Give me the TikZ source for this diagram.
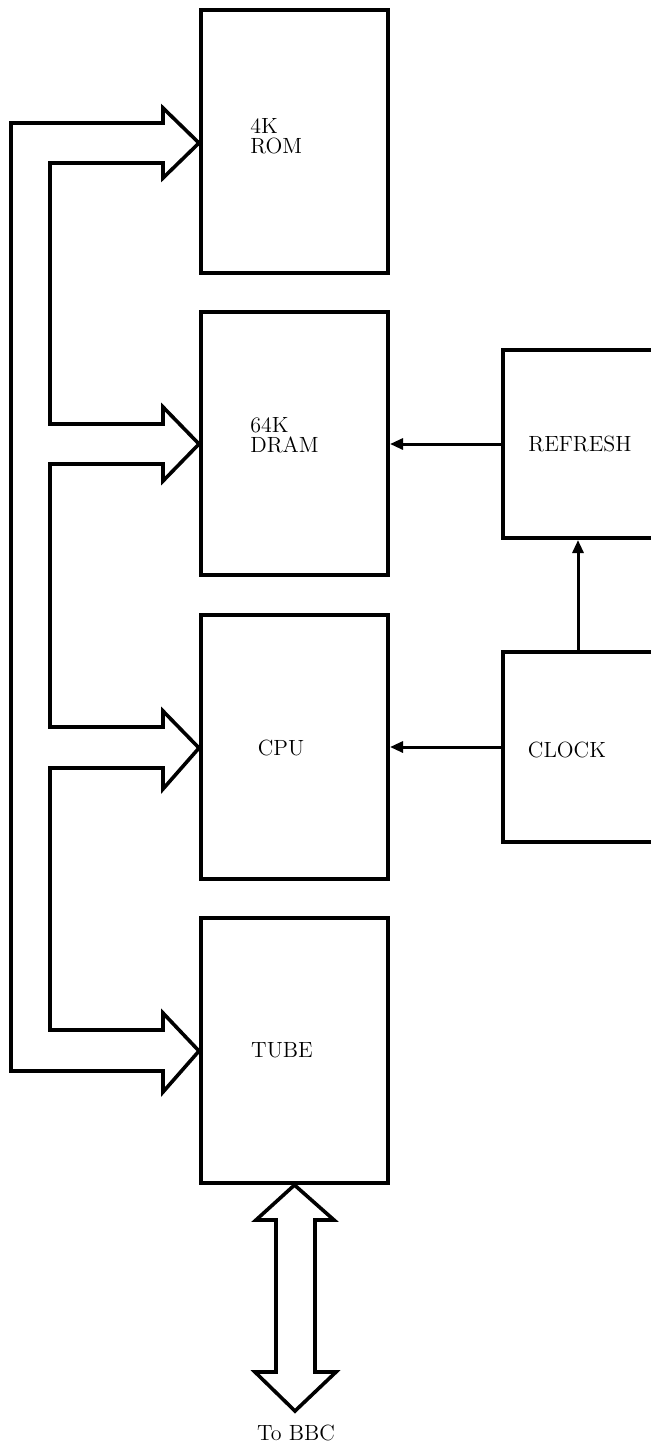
\documentclass[tikz,border=0pt]{standalone}
\usetikzlibrary{arrows.meta,calc}
\begin{document}
\begin{tikzpicture}[x=0.5pt,y=-0.5pt,
  box/.style={draw,line width=2pt,minimum width=93.5pt,inner sep=0pt},
  lbl/.style={inner sep=0pt,font=\fontsize{11}{10}\selectfont},
  sig/.style={line width=1.5pt,-{Triangle[length=6.5pt,width=5.5pt]}},
  bus/.style={line width=1.8pt,line join=miter}]
\useasboundingbox (0,0) rectangle (651,1446);
% boxes
\node[box,minimum height=131.5pt] (rom) at (294.5,141.5) {};
\node[box,minimum height=131.5pt] (dram) at (294.5,443.5) {};
\node[box,minimum height=132pt] (cpu) at (294.5,747) {};
\node[box,minimum height=132.5pt] (tube) at (294.5,1050.5) {};
\node[box,minimum height=94pt] (refresh) at (596.5,444) {};
\node[box,minimum height=95pt] (clock) at (596.5,747) {};
% labels
\node[lbl,align=left,anchor=west] (romt) at (250,136) {4K\\ROM};
\node[lbl,align=left,anchor=west] (dramt) at (250,435) {64K\\DRAM};
\node[lbl] (cput) at (281,748) {CPU};
\node[lbl] (tubet) at (282,1050) {TUBE};
\node[lbl] (refresht) at (580,444) {REFRESH};
\node[lbl] (clockt) at (567,750) {CLOCK};
\node[lbl] (bbc) at (296,1433) {To BBC};
% control signals
\coordinate (upx) at (578,0);
\draw[sig] (refresh.west) -- (refresh.west -| dram.east);
\draw[sig] (clock.west) -- (clock.west -| cpu.east);
\draw[sig] (clock.north -| upx) -- (refresh.south -| upx);
% system bus
\draw[bus] (11,123) -- (163,123) -- (163,108) -- (rom.west |- 0,143) -- (163,178) -- (163,163)
  -- (50,163) -- (50,424) -- (163,424) -- (163,407) -- (dram.west |- 0,444) -- (163,481) -- (163,464)
  -- (50,464) -- (50,727) -- (163,727) -- (163,711) -- (cpu.west |- 0,748) -- (163,789) -- (163,768)
  -- (50,768) -- (50,1030) -- (163,1030) -- (163,1013) -- (tube.west |- 0,1051) -- (163,1092) -- (163,1071)
  -- (11,1071) -- cycle;
% link to BBC
\draw[bus] (tube.south) -- (334,1220) -- (315,1220) -- (315,1372) -- (336,1372) -- (295,1411)
  -- (255,1372) -- (276,1372) -- (276,1220) -- (256,1220) -- cycle;
\end{tikzpicture}
\end{document}
